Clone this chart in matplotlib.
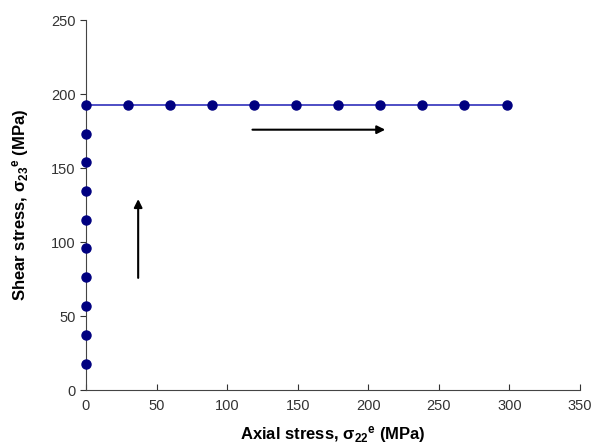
import matplotlib.pyplot as plt

plt.rcParams['font.family'] = ['Liberation Sans', 'DejaVu Sans']

# loading path: shear first, then axial at constant shear
axial = [0, 0, 0, 0, 0, 0, 0, 0, 0, 0,
         0, 29.8, 59.6, 89.4, 119, 149, 178.7, 208.5, 238, 268, 298]
shear = [0, 18, 37.5, 57, 76.5, 96, 115, 134.5, 154, 173,
         192.5, 192.5, 192.5, 192.5, 192.5, 192.5, 192.5, 192.5, 192.5, 192.5, 192.5]

x_ticks = [0, 50, 100, 150, 200, 250, 300, 350]
y_ticks = [0, 50, 100, 150, 200, 250]

fig = plt.figure(figsize=(6.01, 4.48), dpi=100)
ax = fig.add_axes([0.143, 0.129, 0.822, 0.826])

# line through all points, markers skip the origin
ax.plot(axial, shear, '-', color='#4040c0', lw=1.3, zorder=2)
ax.plot(axial[1:], shear[1:], 'o', color='#000080', ms=6.5, zorder=3, clip_on=False)

# direction arrows
ax.annotate('', xy=(37, 131), xytext=(37, 74),
            arrowprops=dict(arrowstyle='-|>', color='black', lw=1.5, mutation_scale=12))
ax.annotate('', xy=(214, 176), xytext=(116, 176),
            arrowprops=dict(arrowstyle='-|>', color='black', lw=1.5, mutation_scale=12))

ax.set_xlim(0, 350)
ax.set_ylim(0, 250)
ax.set_xticks(x_ticks)
ax.set_yticks(y_ticks)
ax.tick_params(axis='y', direction='out', length=4, labelsize=10.5, colors='#333333')
ax.tick_params(axis='x', direction='in', length=4, labelsize=10.5, colors='#333333', pad=6)
for s in ['top', 'right']:
    ax.spines[s].set_visible(False)
for s in ['left', 'bottom']:
    ax.spines[s].set_color('#444444')

ax.set_xlabel(r'Axial stress, $\mathregular{\sigma_{22}}$$\mathregular{^e}$ (MPa)',
              fontsize=12, fontweight='bold', labelpad=8)
ax.set_ylabel(r'Shear stress, $\mathregular{\sigma_{23}}$$\mathregular{^e}$ (MPa)',
              fontsize=12, fontweight='bold', labelpad=14)

fig.savefig('out.png', dpi=100)
